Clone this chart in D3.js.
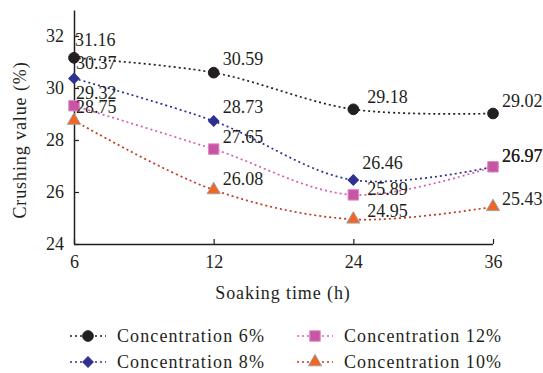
<!DOCTYPE html>
<html>
<head>
<meta charset="utf-8">
<script src="https://cdn.jsdelivr.net/npm/d3@7"></script>
<style>
  body { margin: 0; background: #fff; }
  svg text { font-family: "Liberation Serif", "Times New Roman", serif; fill: #231f20; }
</style>
</head>
<body>
<script>
// data
let times = ["6", "12", "24", "36"];
let conc6 = [31.16, 30.59, 29.18, 29.02];
let conc8 = [30.37, 28.73, 26.46, 26.97];
let conc12 = [29.32, 27.65, 25.89, 26.97];
let conc10 = [28.75, 26.08, 24.95, 25.43];
let yTicks = [24, 26, 28, 30, 32];

let series = [
  { name: "Concentration 6%", values: conc6, line: "#231f20", fill: "#231f20", stroke: "#231f20", shape: d3.symbolCircle, size: 90, rot: 0 },
  { name: "Concentration 8%", values: conc8, line: "#2e3192", fill: "#2e3192", stroke: "#2e3192", shape: d3.symbolSquare, size: 55, rot: 45 },
  { name: "Concentration 12%", values: conc12, line: "#d060b0", fill: "#c855a4", stroke: "#e08ac8", shape: d3.symbolSquare, size: 110, rot: 0 },
  { name: "Concentration 10%", values: conc10, line: "#c4391a", fill: "#f26522", stroke: "#a0a0a0", shape: d3.symbolTriangle, size: 75, rot: 0 }
];

// label offsets [dx, dy] per series, per point
let labelOff = [
  [[1, -12], [9, -8], [14, -6], [9, -6]],
  [[2, -9], [9, -8], [9, -11], [9, -5]],
  [[2, -7], [9, -6], [14, 0], [9, -5]],
  [[2, -8], [9, -5], [14, -2], [9, -2]]
];

let W = 543, H = 373;
let svg = d3.select("body").append("svg")
  .attr("width", W)
  .attr("height", H);

let x = d3.scalePoint().domain(times).range([74, 493]);
let y = d3.scaleLinear().domain([24, 33]).range([244, 10]);

// axes
let xAxis = svg.append("g")
  .attr("transform", "translate(0,244)")
  .call(d3.axisBottom(x).tickSizeInner(-5).tickSizeOuter(0).tickPadding(11));
xAxis.select(".domain").attr("d", "M74,0.5H493").attr("stroke", "#231f20").attr("stroke-width", 1.5);
xAxis.selectAll(".tick line").attr("stroke", "#231f20").attr("stroke-width", 1.2);
xAxis.selectAll("text").attr("font-size", 18).attr("fill", "#231f20");

let yAxis = svg.append("g")
  .attr("transform", "translate(74,0)")
  .call(d3.axisLeft(y).tickValues(yTicks).tickSizeInner(-5).tickSizeOuter(0).tickPadding(10));
yAxis.select(".domain").attr("stroke", "#231f20").attr("stroke-width", 1.5);
yAxis.selectAll(".tick line").attr("stroke", "#231f20").attr("stroke-width", 1.2);
yAxis.selectAll("text").attr("font-size", 18).attr("fill", "#231f20");

// axis titles
svg.append("text")
  .attr("x", 283).attr("y", 299)
  .attr("text-anchor", "middle")
  .attr("font-size", 18)
  .attr("letter-spacing", 0.9)
  .text("Soaking time (h)");

svg.append("text")
  .attr("transform", "translate(26,140) rotate(-90)")
  .attr("text-anchor", "middle")
  .attr("font-size", 18)
  .attr("letter-spacing", 0.9)
  .text("Crushing value (%)");

let line = d3.line()
  .x((d, i) => x(times[i]))
  .y(d => y(d))
  .curve(d3.curveCatmullRom.alpha(0.5));

series.forEach(function(s, si) {
  svg.append("path")
    .attr("d", line(s.values))
    .attr("fill", "none")
    .attr("stroke", s.line)
    .attr("stroke-width", 1.7)
    .attr("stroke-dasharray", "2,3");
});

series.forEach(function(s, si) {
  svg.selectAll(".m" + si)
    .data(s.values)
    .enter()
    .append("path")
    .attr("class", "m" + si)
    .attr("d", d3.symbol().type(s.shape).size(s.size))
    .attr("transform", (d, i) => `translate(${x(times[i])},${y(d)}) rotate(${s.rot})`)
    .attr("fill", s.fill)
    .attr("stroke", s.stroke)
    .attr("stroke-width", 1);
});

series.forEach(function(s, si) {
  svg.selectAll(".l" + si)
    .data(s.values)
    .enter()
    .append("text")
    .attr("class", "l" + si)
    .attr("x", (d, i) => x(times[i]) + labelOff[si][i][0])
    .attr("y", (d, i) => y(d) + labelOff[si][i][1])
    .attr("font-size", 18)
    .text(d => d.toFixed(2));
});

// legend
let legendPos = [[70, 336], [70, 362], [297, 336], [297, 362]];
series.forEach(function(s, si) {
  let g = svg.append("g").attr("transform", `translate(${legendPos[si][0]},${legendPos[si][1]})`);
  g.append("line")
    .attr("x1", 0).attr("x2", 36).attr("y1", 0).attr("y2", 0)
    .attr("stroke", s.line)
    .attr("stroke-width", 1.4)
    .attr("stroke-dasharray", "2,3");
  g.append("path")
    .attr("d", d3.symbol().type(s.shape).size(s.size))
    .attr("transform", `translate(18,0) rotate(${s.rot})`)
    .attr("fill", s.fill)
    .attr("stroke", s.stroke);
  g.append("text")
    .attr("x", 47).attr("y", 6)
    .attr("font-size", 18)
    .attr("letter-spacing", 1.1)
    .text(s.name);
});
</script>
</body>
</html>
